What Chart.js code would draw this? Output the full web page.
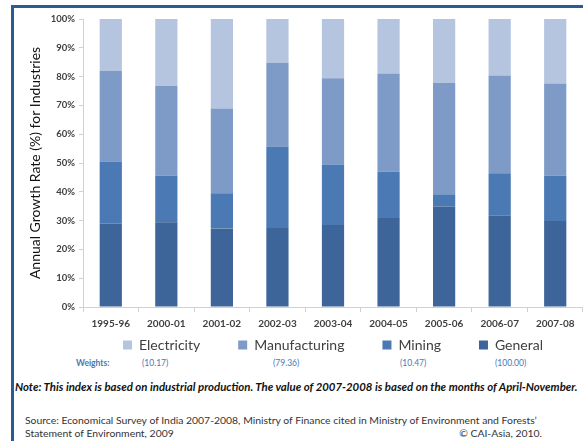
<!DOCTYPE html>
<html>
<head>
<meta charset="utf-8">
<script src="https://cdn.jsdelivr.net/npm/chart.js@4"></script>
<style>
  html, body { margin: 0; padding: 0; background: #fff; }
  body { width: 583px; height: 441px; position: relative; overflow: hidden; font-family: Lato, "Open Sans", sans-serif; }
  #frame { position: absolute; left: 11px; top: 5px; right: -5px; bottom: -5px; border-left: 3px solid #2c5a93; border-top: 3px solid #2c5a93; }
  #wrap { position: absolute; left: 0; top: 0; width: 583px; height: 398px; }
  .t { position: absolute; white-space: nowrap; line-height: 1; }
  .w { color: #4a78b0; font-size: 8.5px; font-weight: bold; top: 359px; }
  .wv { font-weight: normal; }
  #note { left: 15px; top: 381px; font-size: 11.4px; font-weight: bold; font-style: italic; color: #111; }
  .src { font-size: 10.4px; color: #333; }
</style>
</head>
<body>
<div id="frame"></div>
<div class="t w" style="left:76px;">Weights:</div>
<div class="t w wv" style="left:142px;">(10.17)</div>
<div class="t w wv" style="left:273px;">(79.36)</div>
<div class="t w wv" style="left:400px;">(10.47)</div>
<div class="t w wv" style="left:495px;">(100.00)</div>
<div class="t" id="note">Note: This index is based on industrial production. The value of 2007-2008 is based on the months of April-November.</div>
<div class="t src" style="left:25px; top:415px;">Source: Economical Survey of India 2007-2008, Ministry of Finance cited in Ministry of Environment and Forests’</div>
<div class="t src" style="left:25px; top:428px;">Statement of Environment, 2009</div>
<div class="t src" style="right:41px; top:428px;">© CAI-Asia, 2010.</div>
<div id="wrap"><canvas id="c" width="583" height="398"></canvas></div>
<script>
const categories = ["1995-96", "2000-01", "2001-02", "2002-03", "2003-04", "2004-05", "2005-06", "2006-07", "2007-08"];
const general       = [29.0, 29.4, 27.3, 27.4, 28.5, 30.9, 34.9, 31.7, 29.9];
const mining        = [21.5, 16.2, 12.2, 28.3, 21.0, 16.1, 4.2, 14.7, 15.7];
const manufacturing = [31.5, 31.1, 29.4, 29.0, 29.9, 34.1, 38.8, 34.0, 32.0];
const electricity   = [18.0, 23.3, 31.1, 15.3, 20.6, 18.9, 22.1, 19.6, 22.4];
const yTicks = [0, 10, 20, 30, 40, 50, 60, 70, 80, 90, 100];

const LEGEND_PAD = 38;
const LEGEND_TEXT_Y = 345;
const legendShift = {
  id: 'legendShift',
  afterLayout(chart) {
    const lg = chart.legend;
    if (!lg) return;
    const wantTop = LEGEND_TEXT_Y - LEGEND_PAD - 7;
    const d = lg.top - wantTop;
    lg.top -= d; lg.bottom -= d;
  }
};

const common = { barPercentage: 0.8, categoryPercentage: 0.5, borderWidth: 0 };
new Chart(document.getElementById('c'), {
  type: 'bar',
  data: {
    labels: categories,
    datasets: [
      Object.assign({ label: 'General', data: general, backgroundColor: '#3d6599' }, common),
      Object.assign({ label: 'Mining', data: mining, backgroundColor: '#4a79b4' }, common),
      Object.assign({ label: 'Manufacturing', data: manufacturing, backgroundColor: '#7e9bc7' }, common),
      Object.assign({ label: 'Electricity', data: electricity, backgroundColor: '#b5c4df' }, common)
    ]
  },
  plugins: [legendShift],
  options: {
    responsive: false,
    animation: false,
    layout: { padding: { left: 14, top: 19, right: 0, bottom: 0 } },
    plugins: {
      tooltip: { enabled: false },
      legend: {
        position: 'bottom',
        fullSize: false,
        reverse: true,
        labels: {
          boxWidth: 9, boxHeight: 9, padding: LEGEND_PAD,
          color: '#404040',
          font: { family: 'Lato', size: 14 }
        }
      }
    },
    scales: {
      x: {
        stacked: true,
        grid: { display: true, drawOnChartArea: false, color: '#d0d0d0', tickLength: 5, offset: true },
        border: { color: '#d0d0d0' },
        ticks: { color: '#404040', font: { family: 'Lato', size: 10, weight: 'bold' }, padding: 6, maxRotation: 0 }
      },
      y: {
        stacked: true,
        min: 0, max: 100,
        afterFit(scale) { scale.width = 69; },
        afterBuildTicks(scale) { scale.ticks = yTicks.map(v => ({ value: v })); },
        grid: { display: true, drawOnChartArea: false, color: '#d0d0d0', tickLength: 4 },
        border: { color: '#d0d0d0' },
        title: { display: true, text: 'Annual Growth Rate (%) for Industries', color: '#111', font: { family: 'Lato', size: 14 }, padding: { top: 13, bottom: 0 } },
        ticks: { color: '#404040', font: { family: 'Lato', size: 9.5, weight: 'bold' }, padding: 4, callback: v => v + '%' }
      }
    }
  }
});
</script>
</body>
</html>
